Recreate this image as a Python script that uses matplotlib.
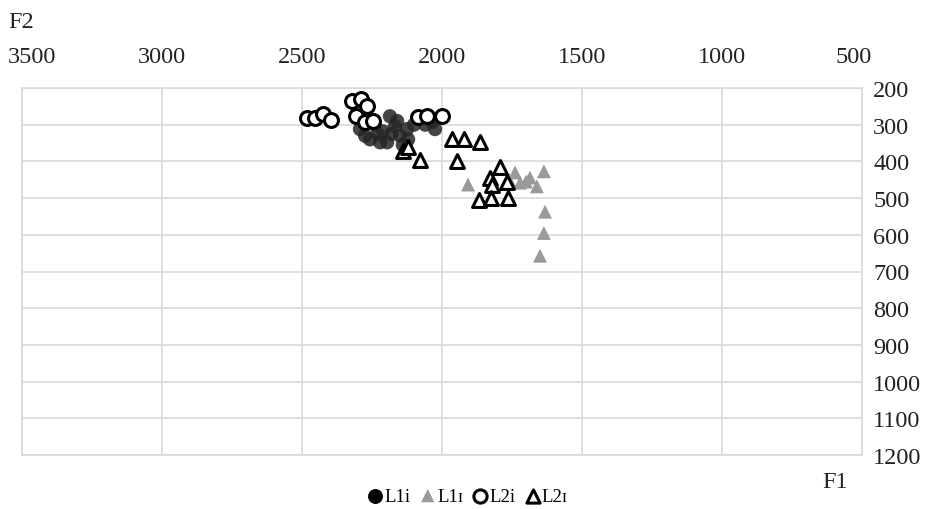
import matplotlib
matplotlib.use("Agg")
from matplotlib import pyplot as plt
from matplotlib.transforms import ScaledTranslation

plt.rcParams["font.family"] = ["Liberation Serif", "DejaVu Serif"]

# F1 / F2 readings (Hz) per group
l1i_f1 = [2293, 2257, 2221, 2196, 2186, 2168, 2125, 2121, 2036, 2025, 2211, 2240,
          2150, 2100, 2275, 2180, 2140, 2060, 2160, 2230]
l1i_f2 = [312, 340, 348, 348, 277, 304, 312, 340, 293, 312, 318, 300,
          330, 300, 330, 325, 355, 300, 290, 325]

l1I_f1 = [1907, 1739, 1686, 1636, 1721, 1661, 1632, 1636, 1650, 1700, 1760]
l1I_f2 = [463, 430, 444, 427, 458, 468, 537, 595, 657, 455, 450]

l2i_f1 = [2482, 2454, 2425, 2396, 2321, 2289, 2268, 2307, 2275, 2246, 2086, 2054, 2000]
l2i_f2 = [282, 282, 271, 288, 236, 230, 249, 277, 293, 290, 279, 277, 277]

l2I_f1 = [1964, 1921, 1864, 1946, 2139, 2079, 1793, 1829, 1768, 1821, 1868, 1825, 1764, 2120]
l2I_f2 = [340, 340, 348, 400, 373, 395, 416, 444, 455, 463, 504, 499, 501, 360]

labels = ["L1i", "L1\u026a", "L2i", "L2\u026a"]
x_ticks = [3500, 3000, 2500, 2000, 1500, 1000, 500]
y_ticks = [200, 300, 400, 500, 600, 700, 800, 900, 1000, 1100, 1200]

fig = plt.figure(figsize=(9.31, 5.10), dpi=100)
ax = fig.add_axes([22 / 931, 1 - 456 / 510, 840 / 931, 367 / 510])

ax.scatter(l1i_f1, l1i_f2, s=105, marker="o", color="#262626", alpha=0.85,
           edgecolors="none", label=labels[0], zorder=3)
ax.scatter(l1I_f1, l1I_f2, s=100, marker="^", color="#9a9a9a",
           edgecolors="none", label=labels[1], zorder=3)
ax.scatter(l2i_f1, l2i_f2, s=100, marker="o", facecolors="white",
           edgecolors="black", linewidths=2.2, label=labels[2], zorder=4)
ax.scatter(l2I_f1, l2I_f2, s=100, marker="^", facecolors="white",
           edgecolors="black", linewidths=2.2, label=labels[3], zorder=4)

ax.set_xlim(3500, 500)
ax.set_ylim(1200, 200)
ax.set_xticks(x_ticks)
ax.set_yticks(y_ticks)
ax.xaxis.tick_top()
ax.yaxis.tick_right()
ax.tick_params(axis="x", length=0, pad=15, labelsize=17.5, colors="#222222")
ax.tick_params(axis="y", length=0, pad=8, labelsize=17.5, colors="#222222")
ax.grid(True, color="#d9d9d9", linewidth=1.2)
ax.set_axisbelow(True)
for sp in ax.spines.values():
    sp.set_color("#d9d9d9")
    sp.set_linewidth(1.2)

# end labels sit inside the figure edges
tl = ax.get_xticklabels()
tl[0].set_transform(tl[0].get_transform() + ScaledTranslation(10 / 100, 0, fig.dpi_scale_trans))
tl[-1].set_transform(tl[-1].get_transform() + ScaledTranslation(-8 / 100, 0, fig.dpi_scale_trans))

fig.text(8 / 931, 1 - 22 / 510, "F2", fontsize=17.5, va="center", ha="left", color="#222222")
fig.text(835 / 931, 1 - 483 / 510, "F1", fontsize=17.5, va="center", ha="center", color="#222222")

leg = fig.legend(loc="center", bbox_to_anchor=(467 / 931, 1 - 497 / 510), ncol=4,
                 frameon=False, fontsize=13.5, handletextpad=0.0, columnspacing=0.4,
                 handlelength=1.0, markerscale=0.95, borderaxespad=0)
leg.legend_handles[0].set_color("black")
leg.legend_handles[0].set_alpha(1)

fig.savefig("out.png", dpi=100)
